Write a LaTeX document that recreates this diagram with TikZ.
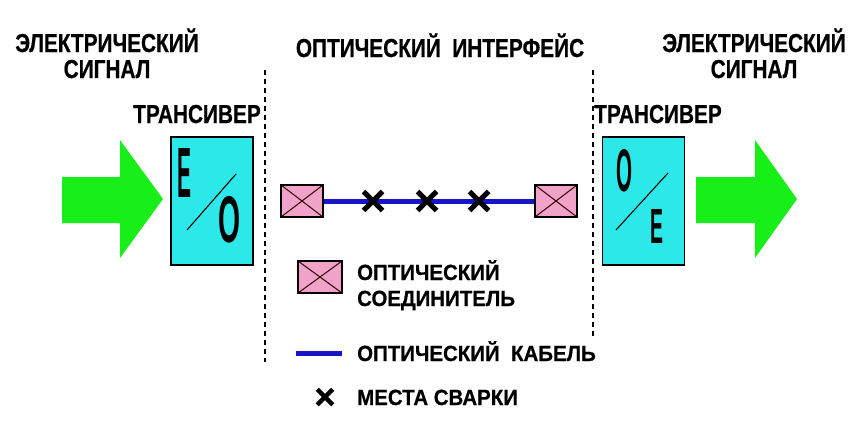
\documentclass[tikz,border=0pt]{standalone}
\usepackage{fontspec}
\setmainfont{Liberation Sans}[FakeStretch=0.8]
\newfontfamily\titlefont{Liberation Sans Bold}[FakeStretch=0.8, FakeBold=0.6]
\newfontfamily\legfont{Liberation Sans Bold}[FakeStretch=0.93, FakeBold=0.6]
\newfontfamily\letterfont{Liberation Sans Bold}
\usetikzlibrary{shapes.misc}
\definecolor{arrgreen}{RGB}{24,238,24}
\definecolor{boxcyan}{RGB}{44,232,232}
\definecolor{connpink}{RGB}{240,162,200}
\definecolor{cableblue}{RGB}{22,22,200}
\tikzset{
  x=1pt, y=-1pt,
  title/.style={font=\fontsize{26}{26}\titlefont, anchor=base, inner sep=0},
  legtext/.style={font=\fontsize{22}{22}\legfont, anchor=base west, inner sep=0},
  trbox/.style={draw=black, line width=1.8pt, fill=boxcyan, minimum width=82pt, minimum height=128pt, inner sep=0},
  connbox/.style={draw=black, line width=1.8pt, fill=connpink, minimum width=42pt, minimum height=32pt, inner sep=0,
    path picture={\draw[line width=1pt, black!80!red] (path picture bounding box.north west) -- (path picture bounding box.south east)
      (path picture bounding box.south west) -- (path picture bounding box.north east);}},
  cable/.style={draw=cableblue, line width=5pt},
  weld/.style={cross out, draw=black, line width=5pt, minimum size=14pt, inner sep=0},
  sep/.style={draw=black, line width=1.1pt, dash pattern=on 5pt off 4pt},
  bigletter/.style={inner sep=0, font=\letterfont},
  slash/.style={draw=black, line width=1.1pt},
  bigarrow/.style={fill=arrgreen},
}
\begin{document}
\begin{tikzpicture}
\useasboundingbox (0,0) rectangle (862,434);
\fill[white] (0,0) rectangle (862,434);

% separators
\coordinate (s1t) at (265,70); \coordinate (s1b) at (265,362);
\coordinate (s2t) at (593,70); \coordinate (s2b) at (593,338);
\draw[sep] (s1t) -- (s1b);
\draw[sep] (s2t) -- (s2b);

% titles
\node[title] (t1) at (107,52) {ЭЛЕКТРИЧЕСКИЙ};
\node[title] (t2) at (107,78) {СИГНАЛ};
\node[title] (t3) at (440,57) {ОПТИЧЕСКИЙ\ \ ИНТЕРФЕЙС};
\node[title] (t4) at (754,52) {ЭЛЕКТРИЧЕСКИЙ};
\node[title] (t5) at (754,78) {СИГНАЛ};
\node[title] (t6) at (197,123) {ТРАНСИВЕР};
\node[title] (t7) at (658,123) {ТРАНСИВЕР};

% arrows
\fill[bigarrow] (62,177) -- (120,177) -- (120,140) -- (163,199) -- (120,258) -- (120,223) -- (62,223) -- cycle;
\fill[bigarrow] (696,177) -- (755,177) -- (755,140) -- (797,199) -- (755,258) -- (755,223) -- (696,223) -- cycle;

% transceivers
\node[trbox] (b1) at (212,201) {};
\node[trbox] (b2) at (643.5,201) {};
\node[bigletter] (e1) at (184,172.5) {\resizebox{14pt}{49pt}{E}};
\node[bigletter] (o1) at (229,220) {\resizebox{22pt}{46pt}{O}};
\draw[slash] (187,230) -- (236,174);
\node[bigletter] (o2) at (624,171) {\resizebox{16pt}{42pt}{O}};
\node[bigletter] (e2) at (656.5,226) {\resizebox{13pt}{34pt}{E}};
\draw[slash] (616,230) -- (668,173);

% optical line
\node[connbox] (c1) at (302,201) {};
\node[connbox] (c2) at (556,201) {};
\draw[cable] (c1.east) -- (c2.west);
\node[weld] (w1) at (373,201) {};
\node[weld] (w2) at (427,201) {};
\node[weld] (w3) at (479,201) {};

% legend
\node[connbox, minimum width=44pt, minimum height=32pt] (lc) at (320,277) {};
\node[legtext] (l1) at (357,280) {ОПТИЧЕСКИЙ};
\node[legtext] (l2) at (357,306) {СОЕДИНИТЕЛЬ};
\coordinate (lca) at (296,353); \coordinate (lcb) at (342,353);
\draw[cable] (lca) -- (lcb);
\node[legtext] (l3) at (357,361) {ОПТИЧЕСКИЙ\ \ КАБЕЛЬ};
\node[weld, minimum size=11pt, line width=4.5pt] (lw) at (325,397) {};
\node[legtext] (l4) at (357,405) {МЕСТА СВАРКИ};
\end{tikzpicture}
\end{document}
